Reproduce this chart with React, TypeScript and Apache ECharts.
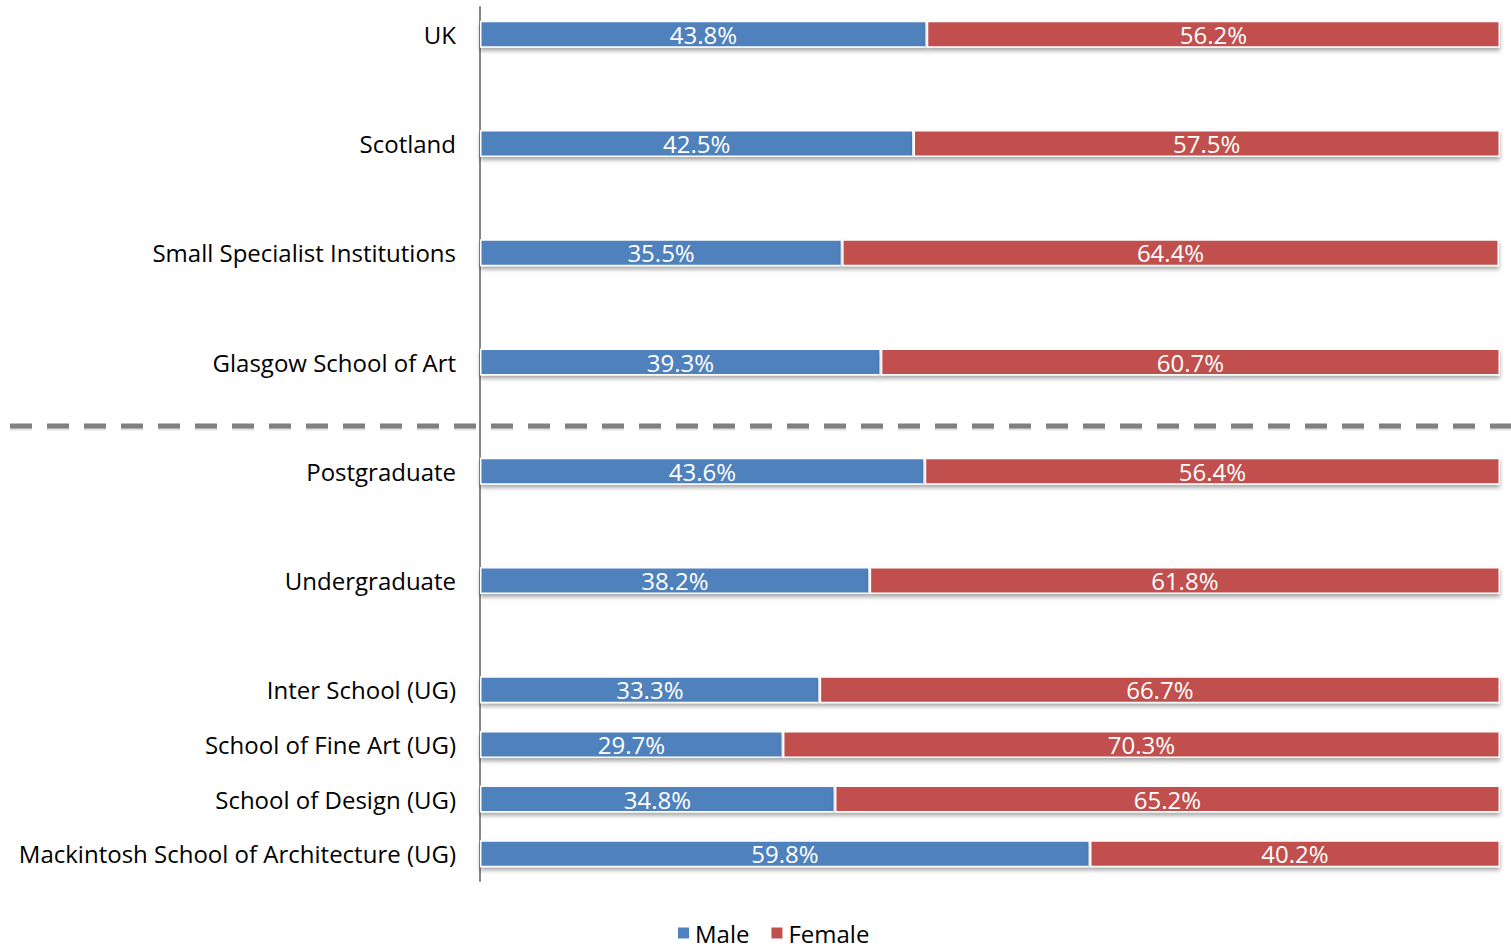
import React, { useEffect, useRef } from "react";
import * as echarts from "echarts";

const categories: string[] = [
  "UK",
  " ",
  "Scotland",
  "  ",
  "Small Specialist Institutions",
  "   ",
  "Glasgow School of Art",
  "    ",
  "Postgraduate",
  "     ",
  "Undergraduate",
  "      ",
  "Inter School (UG)",
  "School of Fine Art (UG)",
  "School of Design (UG)",
  "Mackintosh School of Architecture (UG)",
];

const maleValues: (number | null)[] = [
  43.8, null, 42.5, null, 35.5, null, 39.3, null, 43.6, null, 38.2, null, 33.3, 29.7, 34.8, 59.8,
];
const femaleValues: (number | null)[] = [
  56.2, null, 57.5, null, 64.4, null, 60.7, null, 56.4, null, 61.8, null, 66.7, 70.3, 65.2, 40.2,
];

const FONT = "'Open Sans', sans-serif";

export default function App() {
  const ref = useRef<HTMLDivElement>(null);
  useEffect(() => {
    if (!ref.current) return;
    const chart = echarts.init(ref.current, undefined, { renderer: "svg" });
    const mk = (name: string, vals: (number | null)[], color: string) => ({
      name,
      type: "bar",
      stack: "total",
      barWidth: 27,
      data: vals.map((v) => (v === null ? "-" : v)),
      itemStyle: {
        color,
        borderColor: "#ffffff",
        borderWidth: 1.5,
        shadowColor: "rgba(0,0,0,0.35)",
        shadowBlur: 4,
        shadowOffsetY: 3,
      },
      label: {
        show: true,
        position: "inside",
        color: "#ffffff",
        fontFamily: FONT,
        fontSize: 24,
        formatter: (p: any) => `${Number(p.value).toFixed(1)}%`,
      },
    });
    chart.setOption({
      animation: false,
      backgroundColor: "#ffffff",
      textStyle: { fontFamily: FONT },
      grid: { left: 480, right: 11, top: 7, bottom: 67, containLabel: false },
      legend: {
        bottom: -2,
        left: 671,
        itemWidth: 13,
        itemHeight: 13,
        itemGap: 20,
        icon: "rect",
        textStyle: { fontFamily: FONT, fontSize: 24, color: "#000000" },
        data: ["Male", "Female"],
      },
      xAxis: {
        type: "value",
        min: 0,
        max: 100,
        show: false,
      },
      yAxis: {
        type: "category",
        inverse: true,
        data: categories,
        axisLine: { show: true, lineStyle: { color: "#868686", width: 2 } },
        axisTick: { show: false },
        axisLabel: {
          color: "#000000",
          fontFamily: FONT,
          fontSize: 24,
          margin: 24,
          interval: 0,
        },
        splitLine: { show: false },
      },
      graphic: [
        {
          type: "line",
          shape: { x1: 10, y1: 428, x2: 1511, y2: 428 },
          style: {
            stroke: "rgba(0,0,0,0.12)",
            lineWidth: 5,
            lineDash: [22, 15],
          },
          z: 9,
        },
        {
          type: "line",
          shape: { x1: 10, y1: 426, x2: 1511, y2: 426 },
          style: {
            stroke: "#808080",
            lineWidth: 5,
            lineDash: [22, 15],
          },
          z: 10,
        },
      ],
      series: [mk("Male", maleValues, "#4F81BD"), mk("Female", femaleValues, "#C0504D")],
    });
    return () => chart.dispose();
  }, []);
  return (
    <div
      ref={ref}
      style={{ position: "absolute", left: 0, top: 0, width: 1511, height: 948 }}
    />
  );
}
